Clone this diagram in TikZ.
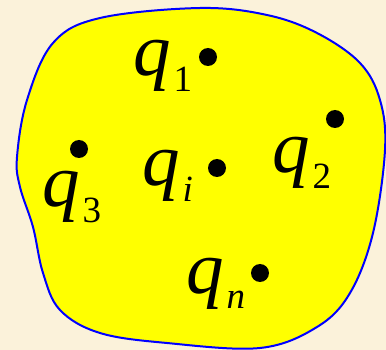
\documentclass[tikz,border=0pt]{standalone}
\usepackage{fontspec}
\setmainfont{Liberation Serif}
\definecolor{bgcream}{RGB}{251,242,218}
\definecolor{blobfill}{RGB}{255,255,0}
\definecolor{blobline}{RGB}{0,0,255}
\newcommand{\subsc}[1]{\kern3pt\raisebox{-16pt}{\fontsize{37}{37}\selectfont #1}}
\begin{document}
\begin{tikzpicture}[x=1pt,y=-1pt,
  dot/.style={circle,fill=black,inner sep=0pt,minimum size=18pt},
  lbl/.style={anchor=base west,inner sep=0pt,font=\fontsize{75}{80}\selectfont\itshape}]
\fill[bgcream] (0,0) rectangle (386,350);
\useasboundingbox (0,0) rectangle (386,350);
\draw[blobline, fill=blobfill, line width=2pt] plot[smooth cycle, tension=0.6] coordinates {
  (200,8) (267,15) (317,33) (360,63) (380,100) (385,150) (373,233) (350,293) (317,327)
  (260,348) (167,343) (100,333) (60,310) (43,273) (33,227) (20,187) (17,157) (27,100)
  (53,43) (100,18)};
\node[dot] (d1) at (208,57) {};
\node[dot] (d2) at (335,119) {};
\node[dot] (d3) at (79,149) {};
\node[dot] (di) at (217,168) {};
\node[dot] (dn) at (260,273) {};
\node[lbl] (l1) at (133,76) {q\subsc{\upshape 1}};
\node[lbl] (l2) at (272,173) {q\subsc{\upshape 2}};
\node[lbl] (l3) at (42,207) {q\subsc{\upshape 3}};
\node[lbl] (li) at (142,186) {q\subsc{i}};
\node[lbl] (ln) at (186,293) {q\subsc{n}};
\end{tikzpicture}
\end{document}
